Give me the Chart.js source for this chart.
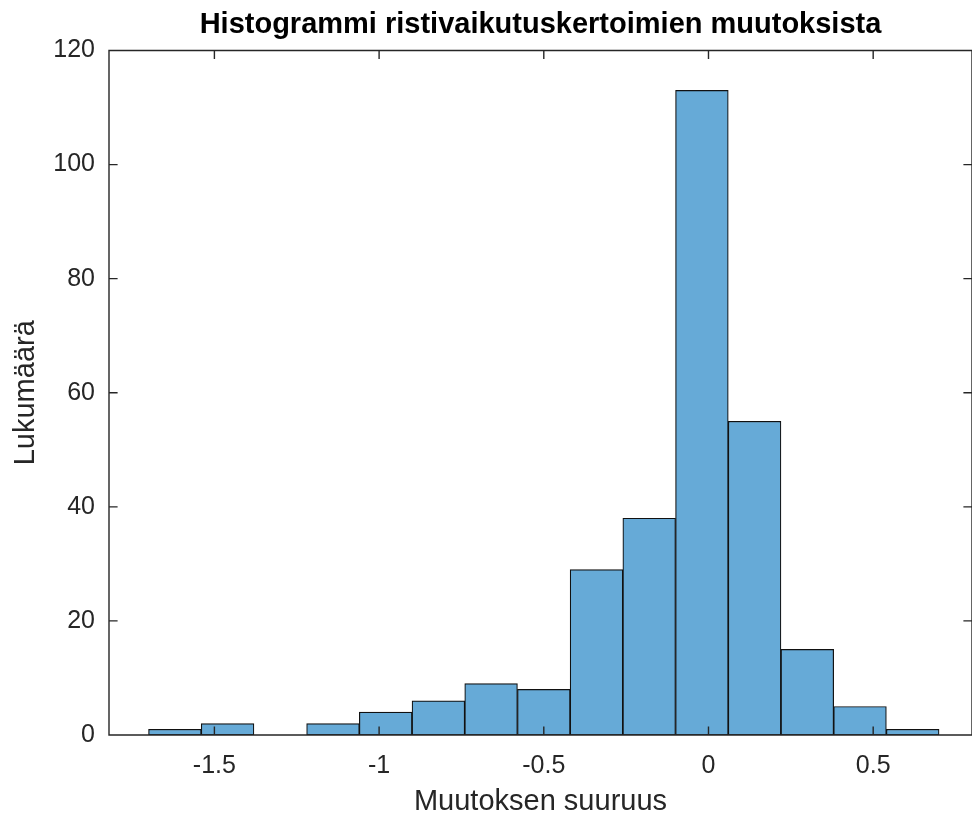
<!DOCTYPE html>
<html>
<head>
<meta charset="utf-8">
<style>
html,body{margin:0;padding:0;background:#fff;}
#wrap{width:972px;height:819px;}
</style>
<script src="https://cdn.jsdelivr.net/npm/chart.js@4"></script>
</head>
<body>
<div id="wrap"><canvas id="c" width="972" height="819"></canvas></div>
<script>
// ---- data ----
const binEdges = [-1.7, -1.54, -1.38, -1.22, -1.06, -0.9, -0.74, -0.58, -0.42, -0.26, -0.1, 0.06, 0.22, 0.38, 0.54, 0.7];
const counts   = [1, 2, 0, 2, 4, 6, 9, 8, 29, 38, 113, 55, 15, 5, 1];
const xTicks   = [-1.5, -1, -0.5, 0, 0.5];
const yTicks   = [0, 20, 40, 60, 80, 100, 120];
const titleText = 'Histogrammi ristivaikutuskertoimien muutoksista';
const xLabel = 'Muutoksen suuruus';
const yLabel = 'Lukumäärä';

const FONT = '"Liberation Sans", Arial, Helvetica, sans-serif';
const AX = '#262626';

const points = counts.map((c, i) => ({ x: (binEdges[i] + binEdges[i + 1]) / 2, y: c }));

const boxPlugin = {
  id: 'matlabBox',
  afterDraw(chart) {
    const { ctx, chartArea: a, scales: { x, y } } = chart;
    const tl = 8.6;
    ctx.save();
    ctx.strokeStyle = AX;
    ctx.lineWidth = 1.4;
    ctx.beginPath();
    ctx.rect(a.left, a.top, a.right - a.left, a.bottom - a.top);
    xTicks.forEach(v => {
      const px = x.getPixelForValue(v);
      ctx.moveTo(px, a.bottom); ctx.lineTo(px, a.bottom - tl);
      ctx.moveTo(px, a.top); ctx.lineTo(px, a.top + tl);
    });
    yTicks.forEach(v => {
      const py = y.getPixelForValue(v);
      ctx.moveTo(a.left, py); ctx.lineTo(a.left + tl, py);
      ctx.moveTo(a.right, py); ctx.lineTo(a.right - tl, py);
    });
    ctx.stroke();
    ctx.restore();
  }
};

new Chart(document.getElementById('c').getContext('2d'), {
  type: 'bar',
  data: {
    datasets: [{
      data: points,
      backgroundColor: '#66AAD7',
      borderColor: '#111111',
      borderWidth: 1.2,
      borderSkipped: false,
      barPercentage: 1,
      categoryPercentage: 1
    }]
  },
  options: {
    responsive: false,
    animation: false,
    devicePixelRatio: 1,
    layout: { padding: 0 },
    plugins: {
      legend: { display: false },
      tooltip: { enabled: false },
      title: {
        display: true,
        fullSize: false,
        text: titleText,
        color: '#000',
        font: { family: FONT, size: 29, weight: 'bold', lineHeight: 1.2 },
        padding: { top: 8, bottom: 7.7 }
      }
    },
    scales: {
      x: {
        type: 'linear',
        min: -1.82,
        max: 0.8,
        offset: false,
        grid: { display: false, drawTicks: false },
        border: { display: false },
        afterBuildTicks: s => { s.ticks = xTicks.map(v => ({ value: v })); },
        afterFit: s => { s.height = 84; },
        ticks: {
          color: AX,
          font: { family: FONT, size: 25, lineHeight: 1.2 },
          padding: 16,
          maxRotation: 0,
          autoSkip: false,
          callback: v => String(v)
        },
        title: {
          display: true,
          text: xLabel,
          color: AX,
          font: { family: FONT, size: 29, lineHeight: 1.2 },
          padding: { top: 0, bottom: 0 }
        }
      },
      y: {
        type: 'linear',
        min: 0,
        max: 120,
        grid: { display: false, drawTicks: false },
        border: { display: false },
        afterBuildTicks: s => { s.ticks = yTicks.map(v => ({ value: v })); },
        afterFit: s => { s.width = 109; },
        ticks: {
          color: AX,
          font: { family: FONT, size: 25, lineHeight: 1.2 },
          padding: 14,
          autoSkip: false,
          callback: v => String(v)
        },
        title: {
          display: true,
          text: yLabel,
          color: AX,
          font: { family: FONT, size: 29, lineHeight: 1.2 },
          padding: { top: 9, bottom: 0 }
        }
      }
    }
  },
  plugins: [boxPlugin]
});
</script>
</body>
</html>
